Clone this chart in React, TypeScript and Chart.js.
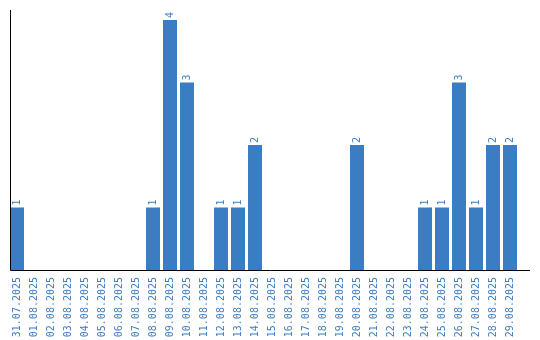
import React, { useEffect, useRef } from "react";
import { Chart, registerables } from "chart.js";

Chart.register(...registerables);

const dateLabels: string[] = [
  "31.07.2025", "01.08.2025", "02.08.2025", "03.08.2025", "04.08.2025",
  "05.08.2025", "06.08.2025", "07.08.2025", "08.08.2025", "09.08.2025",
  "10.08.2025", "11.08.2025", "12.08.2025", "13.08.2025", "14.08.2025",
  "15.08.2025", "16.08.2025", "17.08.2025", "18.08.2025", "19.08.2025",
  "20.08.2025", "21.08.2025", "22.08.2025", "23.08.2025", "24.08.2025",
  "25.08.2025", "26.08.2025", "27.08.2025", "28.08.2025", "29.08.2025",
];

const counts: number[] = [
  1, 0, 0, 0, 0,
  0, 0, 0, 1, 4,
  3, 0, 1, 1, 2,
  0, 0, 0, 0, 0,
  2, 0, 0, 0, 1,
  1, 3, 1, 2, 2,
];

const BLUE = "#3b7dc3";
const FONT = "'DejaVu Sans Mono', monospace";

const axesPlugin = {
  id: "customAxes",
  afterDraw(chart: any) {
    const { ctx, chartArea } = chart;
    ctx.save();
    ctx.strokeStyle = "#000";
    ctx.lineWidth = 1;
    ctx.beginPath();
    const x0 = Math.round(chartArea.left + 1.5) + 0.5;
    const yb = Math.round(chartArea.bottom) + 0.5;
    ctx.moveTo(x0, chartArea.top);
    ctx.lineTo(x0, yb);
    ctx.lineTo(chartArea.right + 11.5, yb);
    ctx.stroke();
    ctx.restore();
  },
};

const valueLabelPlugin = {
  id: "valueLabels",
  afterDatasetsDraw(chart: any) {
    const { ctx } = chart;
    const meta = chart.getDatasetMeta(0);
    const data = chart.data.datasets[0].data as number[];
    ctx.save();
    ctx.fillStyle = BLUE;
    ctx.font = `10px ${FONT}`;
    ctx.textAlign = "left";
    ctx.textBaseline = "middle";
    meta.data.forEach((bar: any, i: number) => {
      const v = data[i];
      if (!v) return;
      ctx.save();
      ctx.translate(bar.x, bar.y - 2);
      ctx.rotate(-Math.PI / 2);
      ctx.fillText(String(v), 0, 0);
      ctx.restore();
    });
    ctx.restore();
  },
};

export default function App() {
  const ref = useRef<HTMLCanvasElement | null>(null);

  useEffect(() => {
    if (!ref.current) return;
    const yMax = Math.max(...counts) * 1.04;
    const chart = new Chart(ref.current, {
      type: "bar",
      data: {
        labels: dateLabels,
        datasets: [
          {
            data: counts,
            backgroundColor: BLUE,
            borderWidth: 0,
            barPercentage: 14 / 17,
            categoryPercentage: 1,
          },
        ],
      },
      options: {
        responsive: false,
        animation: false,
        layout: { padding: { left: 8.5, right: 21.5, top: 10, bottom: 3 } },
        plugins: {
          legend: { display: false },
          tooltip: { enabled: false },
          title: { display: false },
        },
        scales: {
          x: {
            offset: true,
            grid: { display: false, drawTicks: false },
            border: { display: false },
            afterFit: (scale: any) => {
              scale.height = 67;
            },
            ticks: {
              autoSkip: false,
              minRotation: 90,
              maxRotation: 90,
              padding: 7,
              color: BLUE,
              font: { family: FONT, size: 10 },
            },
          },
          y: {
            display: false,
            min: 0,
            max: yMax,
          },
        },
      },
      plugins: [axesPlugin, valueLabelPlugin],
    });
    return () => chart.destroy();
  }, []);

  return (
    <div style={{ position: "absolute", left: 0, top: 0, width: 540, height: 340, background: "#fff" }}>
      <canvas ref={ref} width={540} height={340} style={{ display: "block" }} />
    </div>
  );
}
